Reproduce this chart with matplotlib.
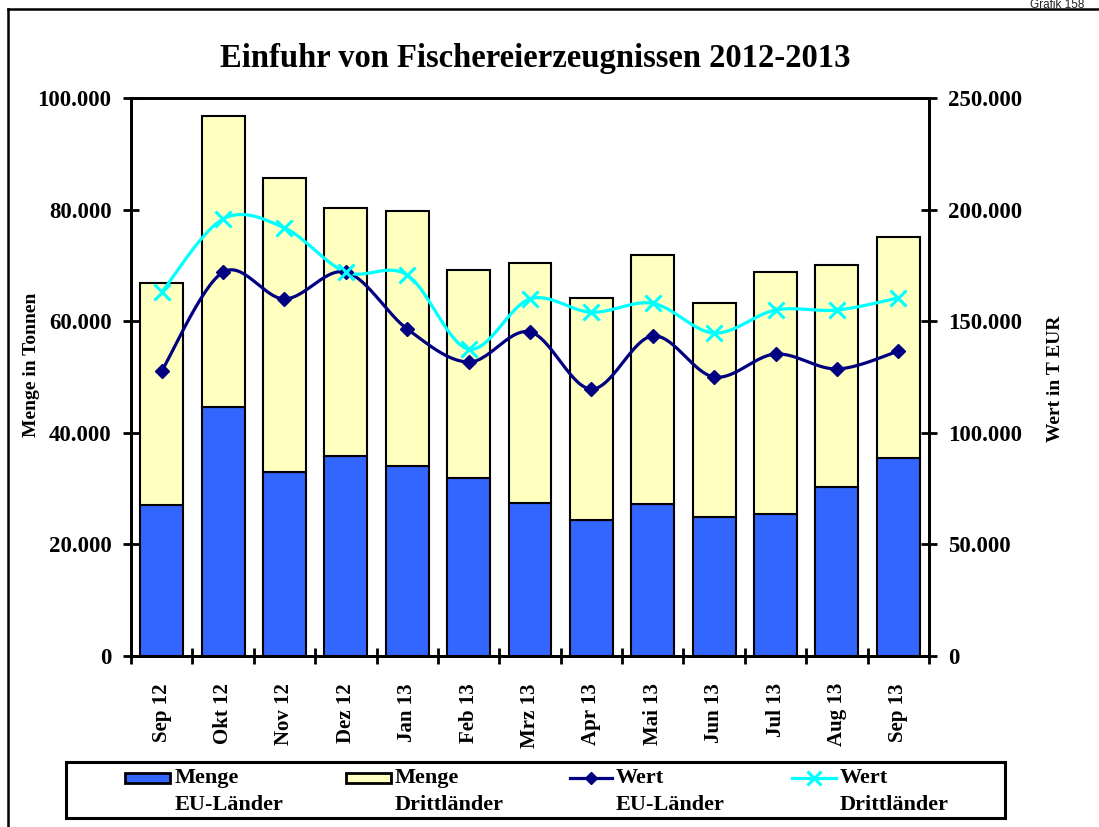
import matplotlib
matplotlib.use("Agg")
import matplotlib.pyplot as plt
import numpy as np
from matplotlib.ticker import FuncFormatter, FixedLocator
from matplotlib.patches import Rectangle
from matplotlib.lines import Line2D

# ---------------- data ----------------
months = ["Sep 12", "Okt 12", "Nov 12", "Dez 12", "Jan 13", "Feb 13", "Mrz 13",
          "Apr 13", "Mai 13", "Jun 13", "Jul 13", "Aug 13", "Sep 13"]
menge_eu = [27100, 44600, 33000, 35800, 34100, 31900, 27400, 24400, 27200, 24900, 25400, 30300, 35500]
menge_total = [66900, 96800, 85700, 80300, 79700, 69200, 70400, 64200, 71900, 63300, 68800, 70100, 75100]
menge_dritt = [t - e for t, e in zip(menge_total, menge_eu)]
wert_eu = [127700, 172000, 160000, 172000, 146500, 131700, 145200, 119600, 143400, 125000, 135300, 128600, 136600]
wert_dritt = [163000, 195800, 191800, 172000, 170700, 137500, 160000, 154000, 158000, 144700, 155000, 155000, 160400]

title = "Einfuhr von Fischereierzeugnissen 2012-2013"
ylabel_left = "Menge in Tonnen"
ylabel_right = "Wert in T EUR"
legend_labels = [("Menge", "EU-Länder"), ("Menge", "Drittländer"),
                 ("Wert", "EU-Länder"), ("Wert", "Drittländer")]

# ---------------- style ----------------
SERIF = ["Liberation Serif", "DejaVu Serif"]
plt.rcParams['font.family'] = SERIF
plt.rcParams['font.weight'] = 'bold'
BLUE = "#3366FF"
YELLOW = "#FFFFC0"
NAVY = "#000080"
CYAN = "#00FFFF"

W, H = 1099, 827
fig = plt.figure(figsize=(W / 100, H / 100), dpi=100)

def fx(px):
    return px / W

def fy(py):
    return 1 - py / H

L, R, T, B = 131, 929, 98, 656
ax = fig.add_axes([fx(L), fy(B), fx(R) - fx(L), fy(T) - fy(B)])
x = np.arange(len(months))

ax.bar(x, menge_eu, width=0.7, color=BLUE, edgecolor="black", linewidth=1.5, zorder=2)
ax.bar(x, menge_dritt, bottom=menge_eu, width=0.7, color=YELLOW, edgecolor="black",
       linewidth=1.5, zorder=2)

ax.set_xlim(-0.5, len(months) - 0.5)
ax.set_ylim(0, 100000)
ax.set_yticks(np.arange(0, 100001, 20000))
fmt = FuncFormatter(lambda v, p: f"{int(v):,}".replace(",", "."))
ax.yaxis.set_major_formatter(fmt)
ax.tick_params(axis='y', direction='inout', length=12, width=2, labelsize=16.5, pad=8)
ax.set_xticks(x)
ax.set_xticklabels(months, rotation=90, fontsize=15, fontweight='bold', va='top')
ax.xaxis.set_minor_locator(FixedLocator(np.arange(-0.5, len(months), 1.0)))
ax.tick_params(axis='x', which='major', length=0, pad=19.5)
ax.tick_params(axis='x', which='minor', direction='inout', length=12, width=2)
for s in ax.spines.values():
    s.set_linewidth(2)
ax.set_ylabel(ylabel_left, fontsize=14, fontweight='bold')
ax.yaxis.set_label_coords((40 - L) / (R - L), (B - 365) / (B - T))

ax2 = ax.twinx()
ax2.set_ylim(0, 250000)
ax2.set_yticks(np.arange(0, 250001, 50000))
ax2.yaxis.set_major_formatter(fmt)
ax2.tick_params(axis='y', direction='inout', length=12, width=2, labelsize=16.5, pad=8)
for s in ax2.spines.values():
    s.set_linewidth(2)
ax2.set_ylabel(ylabel_right, fontsize=14, fontweight='bold')
ax2.yaxis.set_label_coords(1 + (1047 - R) / (R - L), (B - 379) / (B - T))


def smooth(xv, yv, n=30):
    P = np.column_stack([np.asarray(xv, float), np.asarray(yv, float)])
    Pp = np.vstack([P[0], P, P[-1]])
    out = []
    t = np.linspace(0, 1, n)[:, None]
    for i in range(len(P) - 1):
        p0, p1, p2, p3 = Pp[i], Pp[i + 1], Pp[i + 2], Pp[i + 3]
        c1 = p1 + (p2 - p0) / 6
        c2 = p2 - (p3 - p1) / 6
        seg = ((1 - t) ** 3) * p1 + 3 * ((1 - t) ** 2) * t * c1 + 3 * (1 - t) * t ** 2 * c2 + t ** 3 * p2
        out.append(seg if i == 0 else seg[1:])
    S = np.vstack(out)
    return S[:, 0], S[:, 1]


sx, sy = smooth(x, wert_eu)
ax2.plot(sx, sy, color=NAVY, lw=2.3, zorder=3, solid_capstyle='round')
ax2.plot(x, wert_eu, ls='none', marker='D', ms=7, color=NAVY, zorder=4)
sx, sy = smooth(x, wert_dritt)
ax2.plot(sx, sy, color=CYAN, lw=2.3, zorder=3, solid_capstyle='round')
ax2.plot(x, wert_dritt, ls='none', marker='x', ms=11, mew=2.2, color=CYAN, zorder=4)

# title
fig.text(fx(535), fy(58), title, ha='center', va='center', fontsize=23.5, fontweight='bold')

# outer frame and caption
fig.add_artist(Line2D([fx(8), fx(8)], [fy(9), 0], color='black', lw=1.8))
fig.add_artist(Line2D([fx(8), 1], [fy(9), fy(9)], color='black', lw=1.8))
fig.text(fx(1030), fy(7.5), "Grafik 158", ha='left', va='baseline', fontsize=8.5,
         family=["Liberation Sans", "DejaVu Sans"], fontweight='normal', color='#222222')

# legend (manual)
lax = fig.add_axes([0, 0, 1, 1], facecolor='none')
lax.set_xlim(0, W)
lax.set_ylim(H, 0)
lax.axis('off')
lax.add_patch(Rectangle((66, 762), 1005 - 66, 818 - 762, fill=False, edgecolor='black', lw=2.2))
y1, y2 = 778, 805
entries_x = [(125, 170, 175), (346, 391, 395), (570, 612, 616), (792, 836, 840)]
lax.add_patch(Rectangle((125, 773), 45, 10, facecolor=BLUE, edgecolor='black', lw=2))
lax.add_patch(Rectangle((346, 773), 45, 10, facecolor=YELLOW, edgecolor='black', lw=2))
lax.plot([570, 612], [y1, y1], color=NAVY, lw=2.3)
lax.plot([591], [y1], marker='D', ms=6, color=NAVY)
lax.plot([792, 836], [y1, y1], color=CYAN, lw=2.3)
lax.plot([814], [y1], marker='x', ms=10, mew=2.2, color=CYAN)
for (a, b, tx), (l1, l2) in zip(entries_x, legend_labels):
    lax.text(tx, y1, l1, ha='left', va='center', fontsize=16, fontweight='bold')
    lax.text(tx, y2, l2, ha='left', va='center', fontsize=16, fontweight='bold')

fig.savefig("out.png", dpi=100)
